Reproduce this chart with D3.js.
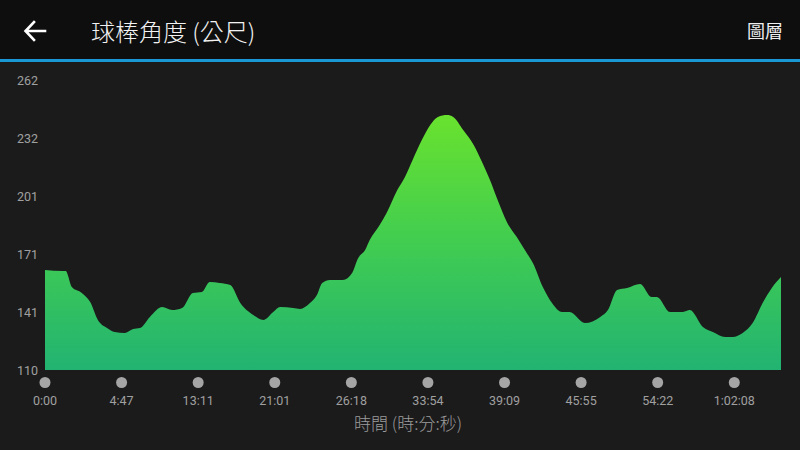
<!DOCTYPE html>
<html><head><meta charset="utf-8">
<script src="https://cdn.jsdelivr.net/npm/d3@7"></script>
<style>html,body{margin:0;padding:0;background:#1b1b1b;}svg{display:block;}</style>
</head><body><svg id="c" width="800" height="450"></svg>
<script>
// distance units (x) and club angle values (y)
const distance = [0,0.23,0.27,0.35,0.48,0.59,0.69,0.81,0.91,1.04,1.15,1.24,1.37,1.53,1.66,1.79,1.93,2.05,2.15,2.28,2.42,2.55,2.72,2.85,2.98,3.07,3.24,3.33,3.46,3.55,3.62,3.72,3.89,4.01,4.09,4.18,4.24,4.37,4.46,4.60,4.70,4.80,4.92,5.03,5.13,5.25,5.33,5.46,5.59,5.70,5.81,5.91,6.03,6.16,6.29,6.37,6.50,6.62,6.75,6.85,7.05,7.25,7.35,7.47,7.60,7.77,7.92,7.99,8.16,8.33,8.42,8.59,8.72,8.88,8.98,9.11,9.24,9.37,9.49,9.61];
const angle = [162.4,161.9,161.9,153.5,150.4,145.6,136.2,132.0,129.9,129.4,131.5,132.0,137.8,143.0,141.4,142.5,150.4,150.9,156.1,155.6,154.5,145.1,138.8,136.2,140.4,143.0,142.5,142.0,145.1,149.3,155.6,157.2,157.2,160.8,168.7,172.9,178.1,186.0,192.3,204.3,211.2,220.1,230.5,238.4,242.6,243.6,242.6,235.8,228.5,219.6,209.6,199.1,187.6,179.7,171.3,166.1,153.5,145.1,140.4,140.4,134.6,137.8,141.4,151.9,153.0,155.1,148.3,148.3,140.4,140.4,141.4,132.5,129.9,127.3,127.3,129.4,134.6,145.1,153.0,158.7];
const yTickLabels = ["110","141","171","201","232","262"];
const xTickLabels = ["0:00","4:47","13:11","21:01","26:18","33:54","39:09","45:55","54:22","1:02:08"];
const yMin = 110, yMax = 262, xMax = 9.61;
const title = "球棒角度 (公尺)";
const layerLabel = "圖層";
const xTitle = "時間 (時:分:秒)";

const svg = d3.select("#c");
const cjk = "'Noto Sans CJK TC','Noto Sans CJK SC',Roboto,sans-serif";
const num = "Roboto,'Noto Sans',sans-serif";

// header
svg.append("rect").attr("x",0).attr("y",0).attr("width",800).attr("height",59).attr("fill","#0e0e0e");
svg.append("rect").attr("x",0).attr("y",59).attr("width",800).attr("height",3).attr("fill","#1a98d5");
svg.append("rect").attr("x",0).attr("y",62).attr("width",800).attr("height",388).attr("fill","#1b1b1b");
svg.append("path").attr("d","M26,31 L45,31 M34,22 L25.5,31 L34,40").attr("stroke","#fff").attr("stroke-width",2.6).attr("fill","none").attr("stroke-linecap","square");
svg.append("text").attr("x",91).attr("y",41).attr("fill","#f2f2f2").attr("font-family",cjk).attr("font-size",24).attr("font-weight",300).text(title);
svg.append("text").attr("x",783).attr("y",38).attr("text-anchor","end").attr("fill","#eeeeee").attr("font-family",cjk).attr("font-size",18).text(layerLabel);

const x = d3.scaleLinear().domain([0,xMax]).range([45,781]);
const y = d3.scaleLinear().domain([yMin,yMax]).range([370,80]);

const defs = svg.append("defs");
const g = defs.append("linearGradient").attr("id","gr").attr("gradientUnits","userSpaceOnUse")
  .attr("x1",0).attr("x2",0).attr("y1",y(yMax)).attr("y2",y(yMin));
g.append("stop").attr("offset","0%").attr("stop-color","#74e824");
g.append("stop").attr("offset","55%").attr("stop-color","#42cd50");
g.append("stop").attr("offset","100%").attr("stop-color","#22b372");

const data = distance.map((d,i)=>({d, v: angle[i]}));
const area = d3.area().x(p=>x(p.d)).y0(y(yMin)).y1(p=>y(p.v)).curve(d3.curveMonotoneX);
svg.append("path").datum(data).attr("d",area).attr("fill","url(#gr)");

// y tick labels
const yStep = (yMax-yMin)/(yTickLabels.length-1);
svg.append("g").selectAll("text").data(yTickLabels).join("text")
  .attr("x",38).attr("y",(d,i)=>y(yMin+i*yStep)+4.5).attr("text-anchor","end")
  .attr("fill","#a0a0a0").attr("font-family",num).attr("font-size",12.5).text(d=>d);

// x ticks
const xt = svg.append("g").selectAll("g").data(xTickLabels).join("g")
  .attr("transform",(d,i)=>`translate(${x(i)},0)`);
xt.append("circle").attr("cy",382.5).attr("r",5.5).attr("fill","#a5a5a5");
xt.append("text").attr("y",405).attr("text-anchor","middle").attr("fill","#a0a0a0")
  .attr("font-family",num).attr("font-size",12.5).text(d=>d);

svg.append("text").attr("x",408).attr("y",430).attr("text-anchor","middle").attr("fill","#9c9c9c")
  .attr("font-family",cjk).attr("font-size",17).attr("font-weight",300).text(xTitle);
</script></body></html>
